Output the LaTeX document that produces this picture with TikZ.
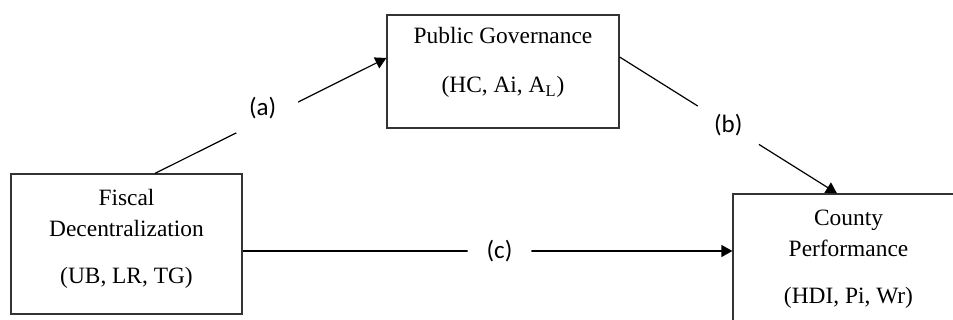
\documentclass[tikz,border=0pt]{standalone}
\usepackage{fontspec}
\setmainfont{Liberation Serif}
\newfontfamily\lblfont{Carlito}
\usetikzlibrary{arrows.meta,positioning}

\begin{document}
\begin{tikzpicture}[x=0.5pt,y=-0.5pt,
		box/.style={draw=black!80, line width=0.6pt, align=center, inner sep=0pt,
			font=\fontsize{11.7}{15.5}\selectfont},
		lbl/.style={circle, fill=white, minimum size=36pt, inner sep=0pt,
			font=\lblfont\fontsize{12.5}{14}\selectfont},
		>={Triangle[length=5.5pt,width=6pt]}, line width=0.6pt]
		\useasboundingbox (0,0) rectangle (953,320);
		\clip (0,0) rectangle (953,320);
		\node[box, minimum width=116pt, minimum height=56.5pt] (gov) at (503,71.5)
			{Public Governance\\[9pt](HC, Ai, A\textsubscript{L})\\[-4pt]};
		\node[box, minimum width=115.5pt, minimum height=70pt] (fiscal) at (126.5,244)
			{Fiscal\\Decentralization\\[8pt](UB, LR, TG)\\[-8pt]};
		\node[box, minimum width=115.5pt, minimum height=70pt] (county) at (848.5,264)
			{County\\Performance\\[8pt](HDI, Pi, Wr)\\[-8pt]};
		\draw[->] ([xshift=14.25pt]fiscal.north) -- node[lbl, xshift=-4pt, yshift=3.75pt] {(a)} ([yshift=6.75pt]gov.west);
		\draw[->] ([yshift=7.25pt]gov.east) -- node[lbl] {(b)} ([xshift=-5.75pt]county.north);
		\draw[->] ([yshift=-3.5pt]fiscal.east) -- node[lbl, minimum size=32pt, xshift=6pt] {(c)} ([yshift=6.5pt]county.west);
	\end{tikzpicture}
\end{document}
